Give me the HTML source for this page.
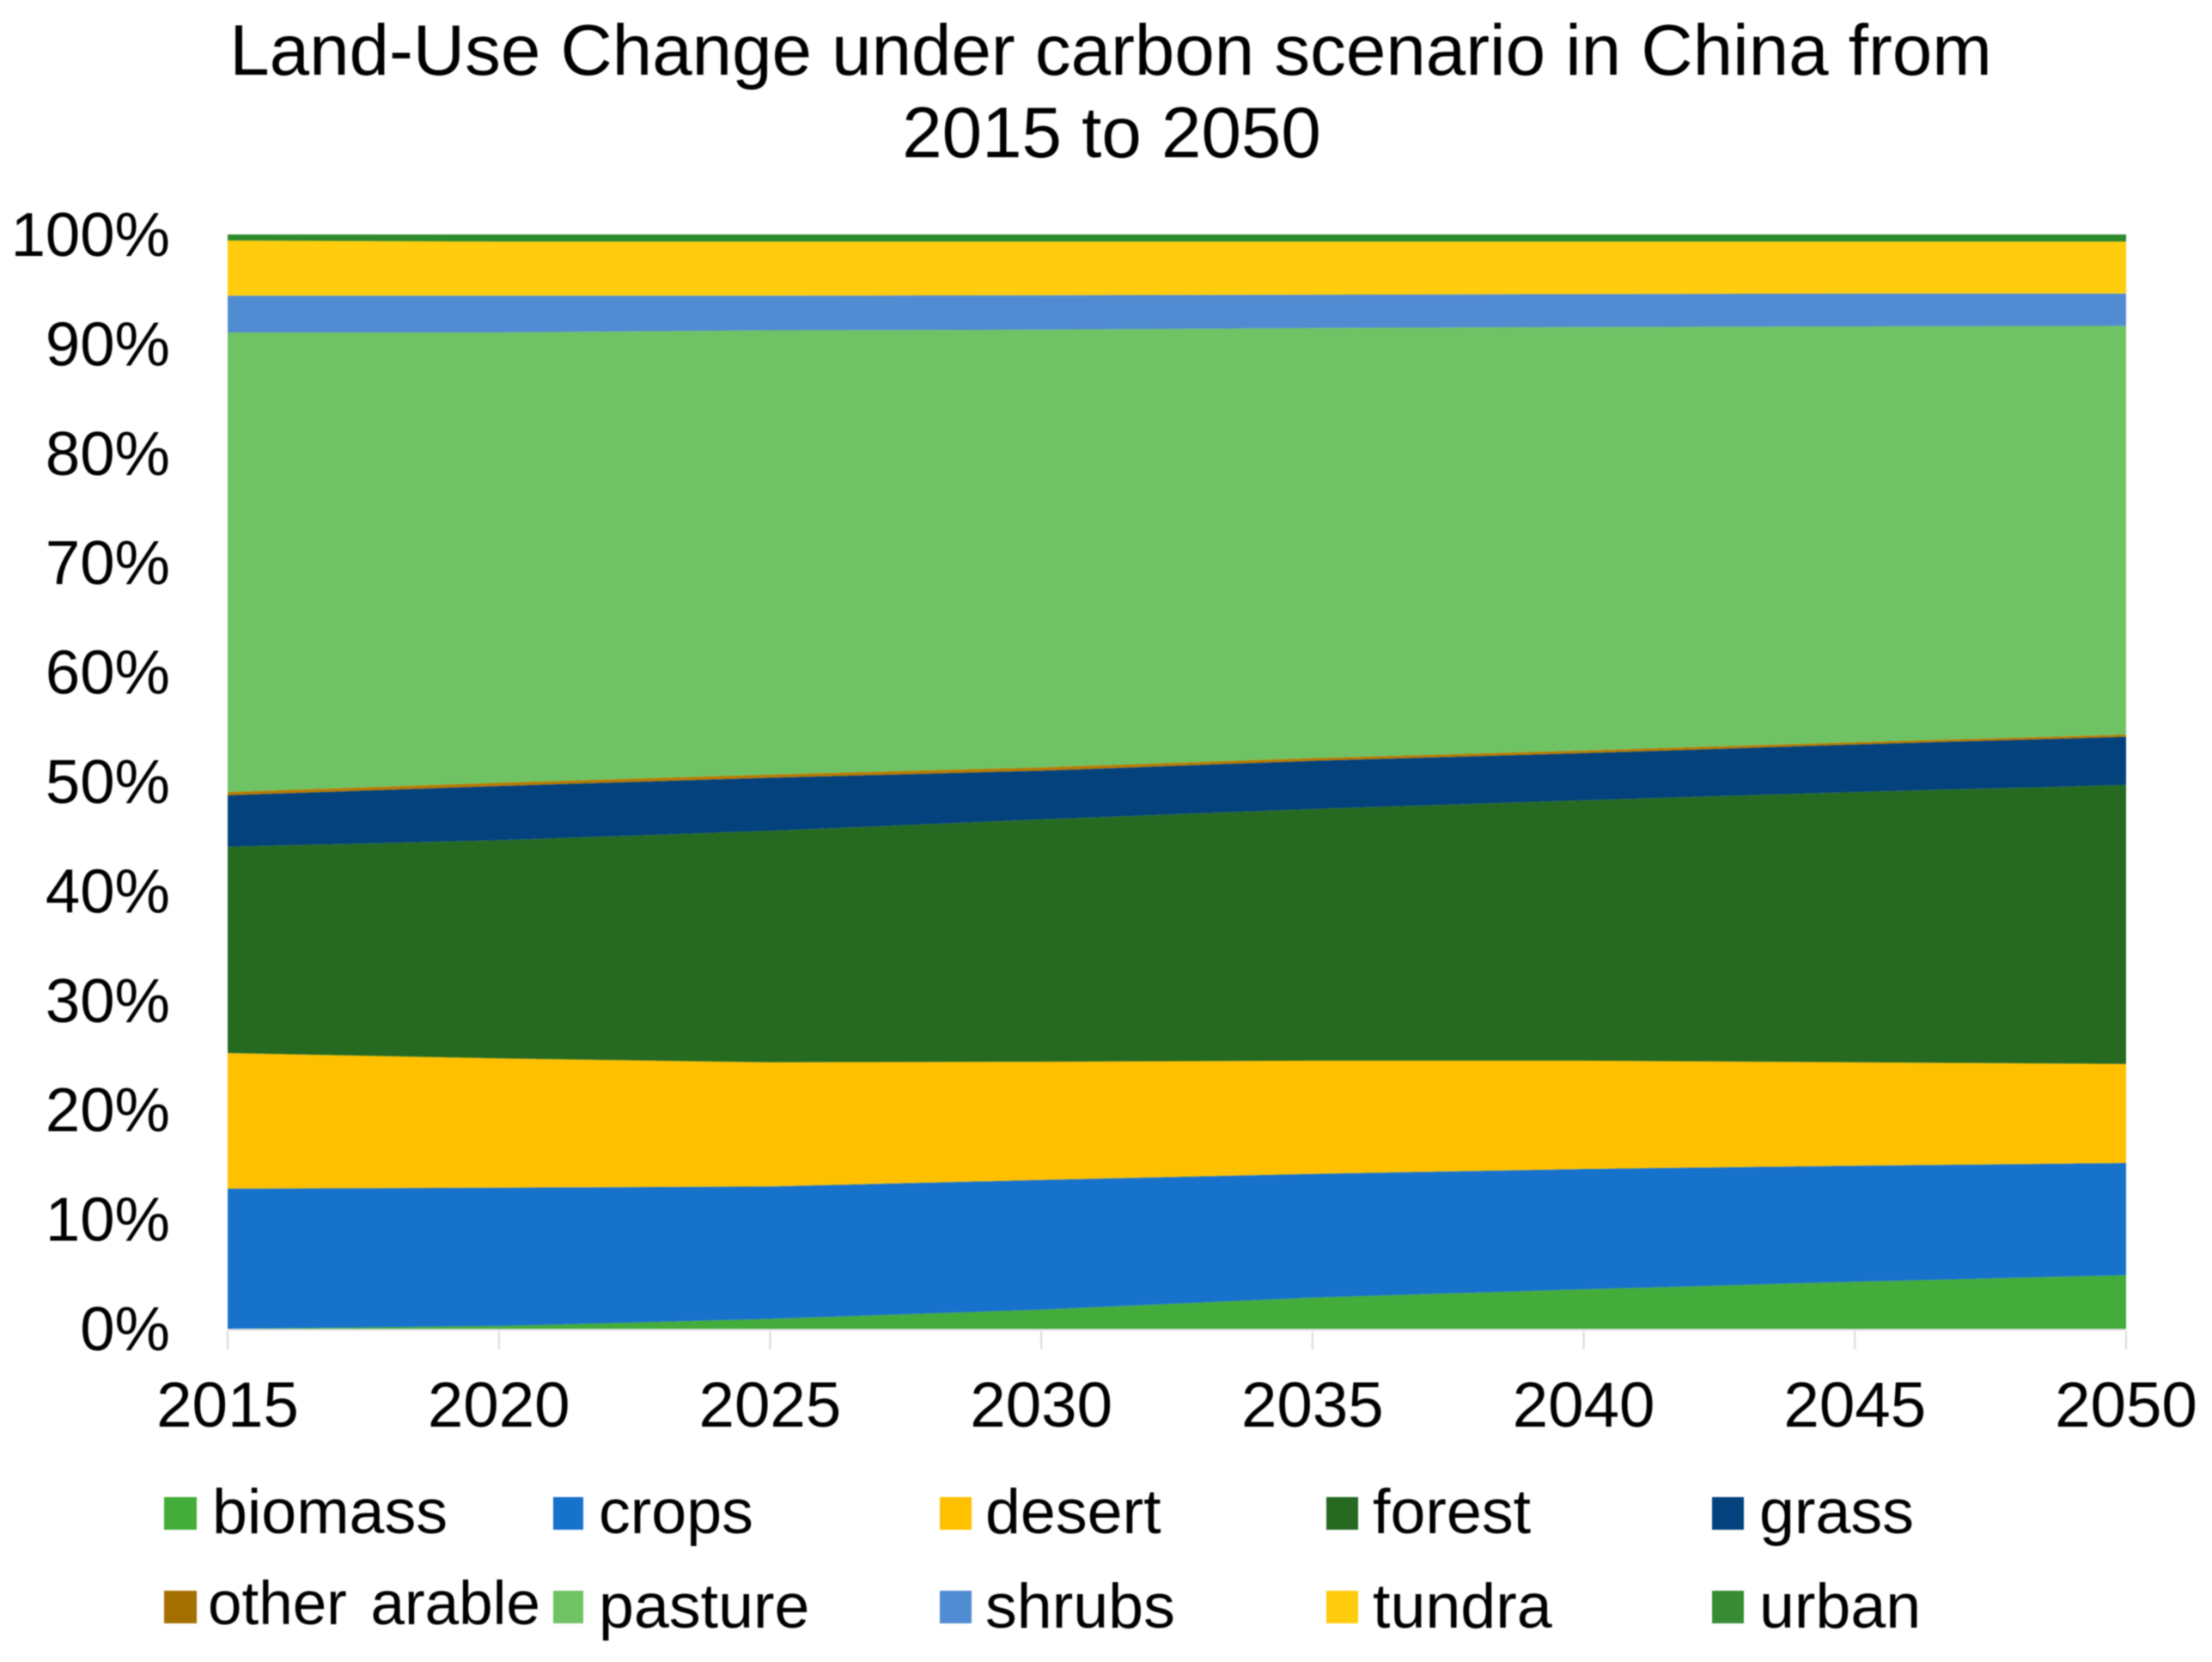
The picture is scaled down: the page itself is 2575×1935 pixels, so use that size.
<!DOCTYPE html>
<html>
<head>
<meta charset="utf-8">
<title>Land-Use Change under carbon scenario in China from 2015 to 2050</title>
<style>
html,body{margin:0;padding:0;background:#fff;width:2575px;height:1935px;overflow:hidden}
svg{display:block;filter:blur(0.7px)}
text{font-family:"Liberation Sans",Arial,sans-serif;fill:#000}
</style>
</head>
<body>
<svg id="chart" xmlns="http://www.w3.org/2000/svg" width="2575" height="1935" viewBox="0 0 2575 1935">
  <g font-size="83.5" text-anchor="middle">
    <text x="1293" y="87">Land-Use Change under carbon scenario in China from</text>
    <text x="1294" y="183">2015 to 2050</text>
  </g>
  <g id="areas"></g>
  <g id="xaxis"></g>
  <g id="yaxis"></g>
  <g font-size="73.6">
    <g><rect x="191" y="1743" width="38" height="38" fill="#43AC3B"/><text x="247" y="1785">biomass</text></g>
    <g><rect x="644" y="1743" width="35" height="38" fill="#1772CC"/><text x="697" y="1785">crops</text></g>
    <g><rect x="1094" y="1743" width="37" height="38" fill="#FFC000"/><text x="1147" y="1785">desert</text></g>
    <g><rect x="1544" y="1743" width="37" height="38" fill="#266A22"/><text x="1598" y="1785">forest</text></g>
    <g><rect x="1993" y="1743" width="37" height="38" fill="#03427C"/><text x="2048" y="1785">grass</text></g>
    <g><rect x="191" y="1852" width="38" height="38" fill="#A56F00"/><text x="242" y="1891" font-size="71" word-spacing="8">other arable</text></g>
    <g><rect x="644" y="1852" width="35" height="38" fill="#6FC364"/><text x="697" y="1895">pasture</text></g>
    <g><rect x="1094" y="1852" width="37" height="38" fill="#518BD2"/><text x="1147" y="1895">shrubs</text></g>
    <g><rect x="1544" y="1852" width="37" height="38" fill="#FFCC0E"/><text x="1598" y="1895">tundra</text></g>
    <g><rect x="1993" y="1852" width="37" height="38" fill="#378C33"/><text x="2048" y="1895">urban</text></g>
  </g>
</svg>
<script>
const years = [2015, 2020, 2025, 2030, 2035, 2040, 2045, 2050];
const yTickLabels = [0, 10, 20, 30, 40, 50, 60, 70, 80, 90, 100];
const seriesNames = ['biomass', 'crops', 'desert', 'forest', 'grass', 'other-arable', 'pasture', 'shrubs', 'tundra', 'urban'];
const biomass = [0, 0.25, 0.9, 1.75, 2.85, 3.6, 4.3, 4.9];
const crops = [12.8, 12.65, 12.1, 11.85, 11.3, 11.0, 10.6, 10.25];
const desert = [12.4, 11.8, 11.35, 10.8, 10.35, 9.9, 9.45, 9.05];
const forest = [18.85, 19.95, 21.15, 22.15, 23.0, 23.8, 24.7, 25.5];
const grass = [4.7, 4.95, 4.85, 4.45, 4.4, 4.3, 4.35, 4.4];
const otherArable = [0.3, 0.3, 0.3, 0.3, 0.25, 0.25, 0.2, 0.2];
const pasture = [42.0, 41.15, 40.6, 40.0, 39.3, 38.7, 38.0, 37.35];
const shrubs = [3.35, 3.35, 3.15, 3.15, 3.05, 3.0, 3.0, 2.95];
const tundra = [5.05, 4.95, 4.95, 4.9, 4.85, 4.8, 4.75, 4.75];
const urban = [0.55, 0.65, 0.65, 0.65, 0.65, 0.65, 0.65, 0.65];

const seriesValues = [biomass, crops, desert, forest, grass, otherArable, pasture, shrubs, tundra, urban];
const seriesColors = ['#43AC3B', '#1772CC', '#FFC000', '#266A22', '#03427C', '#B87A00', '#6FC364', '#518BD2', '#FFCC0E', '#2C8A2C'];

const NS = 'http://www.w3.org/2000/svg';
const plotLeft = 265, plotRight = 2475, plotTop = 273, plotBottom = 1547;
function xScale(year) {
  return plotLeft + (year - years[0]) / (years[years.length - 1] - years[0]) * (plotRight - plotLeft);
}
function yScale(value) {
  return plotBottom - value / 100 * (plotBottom - plotTop);
}

const areasGroup = document.getElementById('areas');
const xGroup = document.getElementById('xaxis');
const yGroup = document.getElementById('yaxis');

let baseline = years.map(function () { return 0; });
seriesValues.forEach(function (values, s) {
  const tops = values.map(function (v, i) { return baseline[i] + v; });
  const upper = years.map(function (yr, i) { return xScale(yr).toFixed(1) + ',' + yScale(tops[i]).toFixed(1); });
  const lower = years.map(function (yr, i) { return xScale(yr).toFixed(1) + ',' + yScale(baseline[i]).toFixed(1); }).reverse();
  const area = document.createElementNS(NS, 'path');
  area.setAttribute('d', 'M' + upper.join('L') + 'L' + lower.join('L') + 'Z');
  area.setAttribute('fill', seriesColors[s]);
  
  
  areasGroup.appendChild(area);
  baseline = tops;
});

const axisLine = document.createElementNS(NS, 'line');
axisLine.setAttribute('x1', plotLeft);
axisLine.setAttribute('x2', plotRight);
axisLine.setAttribute('y1', plotBottom + 1);
axisLine.setAttribute('y2', plotBottom + 1);
axisLine.setAttribute('stroke', '#d9d9d9');
axisLine.setAttribute('stroke-width', '2');


xGroup.appendChild(axisLine);

years.forEach(function (yr) {
  const tick = document.createElementNS(NS, 'line');
  tick.setAttribute('x1', xScale(yr));
  tick.setAttribute('x2', xScale(yr));
  tick.setAttribute('y1', plotBottom + 3);
  tick.setAttribute('y2', plotBottom + 24);
  tick.setAttribute('stroke', '#d9d9d9');
  tick.setAttribute('stroke-width', '2');
  
  
  xGroup.appendChild(tick);
  const label = document.createElementNS(NS, 'text');
  label.setAttribute('x', xScale(yr));
  label.setAttribute('y', 1661);
  label.setAttribute('font-size', '74.5');
  label.setAttribute('text-anchor', 'middle');
  
  
  label.textContent = String(yr);
  xGroup.appendChild(label);
});

yTickLabels.forEach(function (v) {
  const label = document.createElementNS(NS, 'text');
  label.setAttribute('x', 198);
  label.setAttribute('y', yScale(v) + 25);
  label.setAttribute('font-size', '72.5');
  label.setAttribute('text-anchor', 'end');
  
  
  label.textContent = v + '%';
  yGroup.appendChild(label);
});
</script>
</body>
</html>
